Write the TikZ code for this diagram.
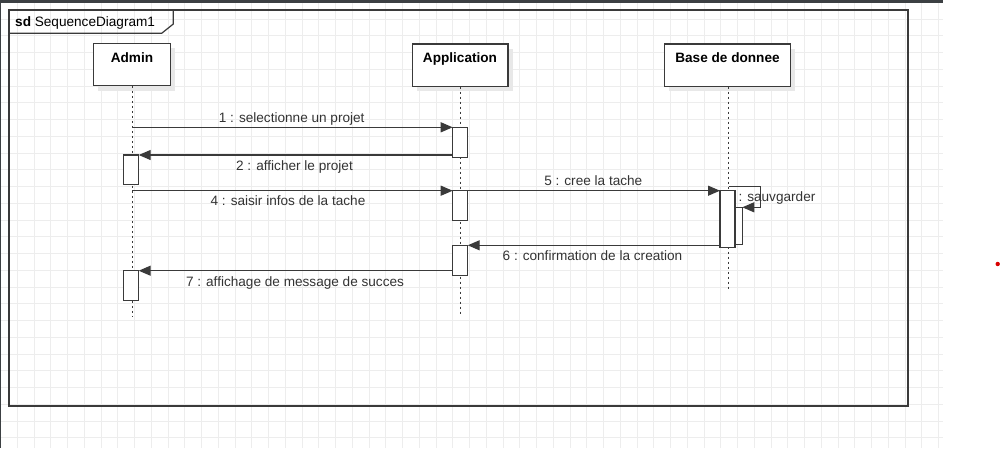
\documentclass[tikz,border=0pt]{standalone}
\usepackage{fontspec}
\setmainfont{Liberation Sans}
\usetikzlibrary{arrows.meta,calc}
\definecolor{txt}{HTML}{333333}
\definecolor{ln}{HTML}{3A3A3A}
\definecolor{gridc}{HTML}{EDEDED}
\definecolor{bar}{HTML}{3C4043}
\tikzset{
  lbl/.style={text=txt,font=\fontsize{13.6}{15}\selectfont,inner sep=0pt,anchor=base},
  headbox/.style={draw=ln,line width=1.3pt,fill=white,minimum height=42.5pt,inner sep=0pt,outer sep=0pt},
  headtxt/.style={text=black,font=\bfseries\fontsize{13.6}{15}\selectfont,inner sep=0pt,anchor=base},
  act/.style={draw=ln,line width=1.1pt,fill=white,minimum width=15pt,inner sep=0pt,outer sep=0pt},
  life/.style={draw=ln,line width=1pt,dash pattern=on 2.5pt off 2.5pt},
  msg/.style={draw=ln,line width=1.2pt,-{Triangle[length=12pt,width=10pt]}},
  sh/.style={fill=black!9,draw=none}
}
\begin{document}
\begin{tikzpicture}[x=1pt,y=-1pt]
\useasboundingbox (0,0) rectangle (1002,448);
% background grid
\fill[white] (0,0) rectangle (1002,448);
\foreach \k in {0,...,56} {\draw[gridc,line width=0.9pt] ({0.6+16.75*\k},0) -- ({0.6+16.75*\k},448);}
\foreach \k in {0,...,26} {\draw[gridc,line width=0.9pt] (0,{2.3+16.75*\k}) -- (943,{2.3+16.75*\k});}
\fill[bar] (0,0) rectangle (943,2.6);
\fill[bar] (0,0) rectangle (1.2,448);
\fill[red!85!black] (997.7,264) circle (2.2pt);
% frame
\draw[ln,line width=1.4pt] (9,10) rectangle (908,406);
\draw[ln,line width=1.2pt] (9,33.3) -- (161.7,33.3) -- (173.3,24) -- (173.3,10);
\node[lbl,anchor=base west,text=black] (title) at (15,26.7) {\textbf{sd}\ SequenceDiagram1};
% heads with shadows
\fill[sh] (98,48) rectangle (175,91);
\fill[sh] (417,49) rectangle (513,90.7);
\fill[sh] (669,49) rectangle (795,90.7);
\node[headbox,minimum width=77pt,anchor=north west] (admin) at (93.3,43.3) {};
\node[headbox,minimum width=95.7pt,anchor=north west] (app) at (412.3,44) {};
\node[headbox,minimum width=126pt,anchor=north west] (bdd) at (664.3,44) {};
\node[headtxt] (adminl) at (132,62.3) {Admin};
\node[headtxt] (appl) at (460,62.3) {Application};
\node[headtxt] (bddl) at (727.5,62.3) {Base de donnee};
% lifeline ends
\coordinate (adminend) at (132,316);
\coordinate (append) at (460,316);
\coordinate (bddend) at (728.5,291);
\draw[life] (admin.south -| adminend) -- (adminend);
\draw[life] (app.south -| append) -- (append);
\draw[life] (bdd.south -| bddend) -- (bddend);
% activations
\node[act,minimum height=30pt,anchor=north west] (a1) at (452.7,127.3) {};
\node[act,minimum height=29.6pt,anchor=north west] (a2) at (452.7,190.7) {};
\node[act,minimum height=30pt,anchor=north west] (a3) at (452.7,245.3) {};
\node[act,minimum height=29.7pt,minimum width=15.4pt,anchor=north west] (ad1) at (123.3,155) {};
\node[act,minimum height=30pt,minimum width=15.4pt,anchor=north west] (ad2) at (123.3,270.7) {};
\node[act,minimum height=37.4pt,minimum width=7.3pt,anchor=north west] (b2) at (735,207.3) {};
\node[act,minimum height=56.6pt,anchor=north west] (b1) at (720,190.7) {};
% message start points
\coordinate (s1) at (132,127.3);
\coordinate (s4) at (132,190.7);
\coordinate (selfa) at (729,186.7);
\coordinate (selfb) at (760.7,186.7);
\coordinate (selfc) at (760.7,207.3);
% messages
\draw[msg] (s1) -- (a1.north west);
\draw[msg] (a1.west |- ad1.north) -- (ad1.north east);
\draw[msg] (s4) -- (a2.north west);
\draw[msg] (a2.north east) -- (b1.north west);
\draw[msg] (selfa) -- (selfb) -- (selfc) -- (b2.north east);
\draw[msg] (b1.west |- a3.north) -- (a3.north east);
\draw[msg] (a3.west |- ad2.north) -- (ad2.north east);
% labels
\node[lbl] (l1) at (291.7,122.7) {1 : selectionne un projet};
\node[lbl] (l2) at (294.5,170.7) {2 : afficher le projet};
\node[lbl] (l4) at (288,205.7) {4 : saisir infos de la tache};
\node[lbl] (l5) at (593.3,185.3) {5 : cree la tache};
\node[lbl,anchor=base west] (ls) at (738.3,201.7) {: sauvgarder};
\node[lbl] (l6) at (592.5,260.7) {6 : confirmation de la creation};
\node[lbl] (l7) at (295,286.7) {7 : affichage de message de succes};
\end{tikzpicture}
\end{document}
